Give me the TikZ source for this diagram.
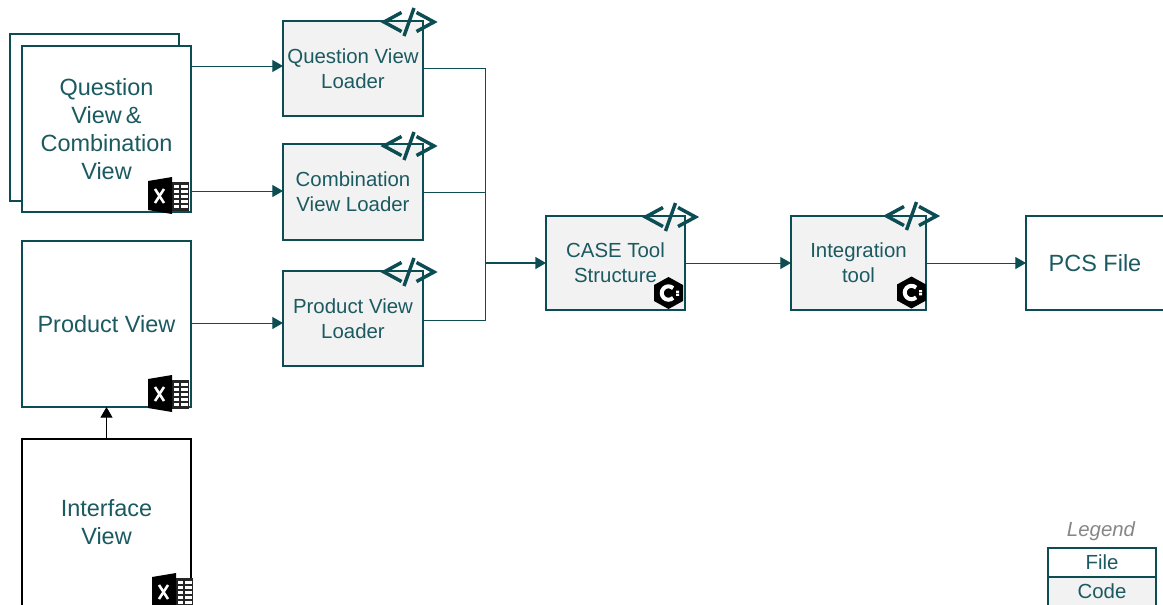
\documentclass[tikz,border=0pt]{standalone}
\usepackage{fontspec}
\setmainfont{Liberation Sans}
\usetikzlibrary{arrows.meta}
\definecolor{teal1}{HTML}{0B4D53}
\definecolor{tealtxt}{HTML}{1B5A60}
\definecolor{codefill}{HTML}{F2F2F2}
\tikzset{
  boxbase/.style={draw=teal1,line width=1.5pt,inner sep=0pt,outer sep=0pt,align=center,text=tealtxt},
  filebox/.style={boxbase,fill=white,font=\fontsize{17.6}{21}\selectfont},
  codebox/.style={boxbase,fill=codefill,font=\fontsize{15.3}{19}\selectfont},
  legbox/.style={boxbase,font=\fontsize{15.3}{18.8}\selectfont},
  conn/.style={draw=teal1,line width=0.75pt,-{Triangle[length=8pt,width=9pt]}},
  plainconn/.style={draw=teal1,line width=0.75pt},
  tagicon/.pic={
    \draw[teal1,line width=2.6pt,line join=miter] (-7.5,-9.5) -- (-25,0) -- (-7.5,9.5);
    \draw[teal1,line width=2.6pt,line join=miter] (7.5,-9.5) -- (25,0) -- (7.5,9.5);
    \draw[teal1,line width=2.6pt] (5,-14) -- (-5,14);
  },
  xlicon/.pic={
    \fill[black!85] (24,5) rectangle (41,34);
    \foreach \yy in {8,13,18,23,28}{
      \fill[white] (26,\yy) rectangle (31,\yy+3.4);
      \fill[white] (33,\yy) rectangle (39.5,\yy+3.4);
    }
    \fill[black] (0,4) -- (24,0) -- (24,37) -- (0,33) -- cycle;
    \draw[white,line width=1.9pt] (7,12) -- (16,26) (16,12) -- (7,26);
  },
  cppicon/.pic={
    \fill[black] (0,-16) -- (14.5,-8) -- (14.5,8) -- (0,16) -- (-14.5,8) -- (-14.5,-8) -- cycle;
    \draw[white,line width=3pt] (4.6,-4.8) arc[start angle=-46,end angle=-314,radius=6.7];
    \fill[white] (7.5,-2.4) rectangle (10.5,-0.2) (7.5,0.6) rectangle (10.5,2.8);
  }
}
\begin{document}
\begin{tikzpicture}[x=0.75pt,y=-0.75pt]
\useasboundingbox (0,0) rectangle (1163,604);
\clip (0,0) rectangle (1163,604);
% file boxes
\node[filebox,minimum width=126.75pt,minimum height=125.25pt] (bk) at (94.5,117.5) {};
\node[filebox,minimum width=126.75pt,minimum height=124.5pt] (qv) at (106.5,129) {Question\\View\,\&\\Combination\\View};
\node[filebox,minimum width=126.75pt,minimum height=124.5pt] (pv) at (106.5,324) {Product View};
\node[filebox,draw=black,minimum width=126.75pt,minimum height=125.25pt] (iv) at (106.5,522.5) {Interface\\View};
% code boxes
\node[codebox,minimum width=105pt,minimum height=71.25pt] (ql) at (353,68.5) {Question View\\Loader};
\node[codebox,minimum width=105pt,minimum height=72pt] (cl) at (353,192) {Combination\\View Loader};
\node[codebox,minimum width=105pt,minimum height=71.25pt] (pl) at (353,318.5) {Product View\\Loader};
\node[codebox,minimum width=104.25pt,minimum height=70.5pt] (cs) at (615.5,263) {CASE Tool\\Structure};
\node[codebox,minimum width=101.25pt,minimum height=70.5pt] (it) at (858.5,263) {Integration\\tool};
\node[filebox,minimum width=103.5pt,minimum height=70.5pt] (pcs) at (1095,263) {PCS File};
% connectors
\coordinate (q1) at (191,66);
\coordinate (q2) at (191,191);
\coordinate (p1) at (191,323);
\coordinate (p3) at (423,320);
\coordinate (j) at (485,263);
\draw[conn] (q1) -- (q1 -| ql.west);
\draw[conn] (q2) -- (q2 -| cl.west);
\draw[conn] (p1) -- (p1 -| pl.west);
\draw[plainconn] (ql.east) -| (j);
\draw[plainconn] (cl.east) -| (j);
\draw[plainconn] (p3) -| (j);
\draw[conn,line width=1pt] (j) -- (j -| cs.west);
\draw[conn] (cs.east) -- (it.west);
\draw[conn] (it.east) -- (it.east -| pcs.west);
\draw[draw=black,line width=0.75pt,-{Triangle[length=8pt,width=9pt]}] (iv.north) -- (pv.south);
% icons
\pic at (409,22) {tagicon};
\pic at (409,146) {tagicon};
\pic at (409,272) {tagicon};
\pic at (670.5,217) {tagicon};
\pic at (911.5,216) {tagicon};
\pic at (148,177) {xlicon};
\pic at (148,375) {xlicon};
\pic at (152,573) {xlicon};
\pic at (668.5,293) {cppicon};
\pic at (911.5,292.5) {cppicon};
% legend
\node[font=\fontsize{15.3}{18}\selectfont\itshape,text=gray!95,inner sep=0pt] (lg) at (1101,531) {Legend};
\node[legbox,fill=white,minimum width=81pt,minimum height=21.75pt] (lf) at (1102,562.5) {File};
\node[legbox,fill=codefill,minimum width=81pt,minimum height=22pt] (lc) at (1102,591.5) {Code};
\end{tikzpicture}
\end{document}
